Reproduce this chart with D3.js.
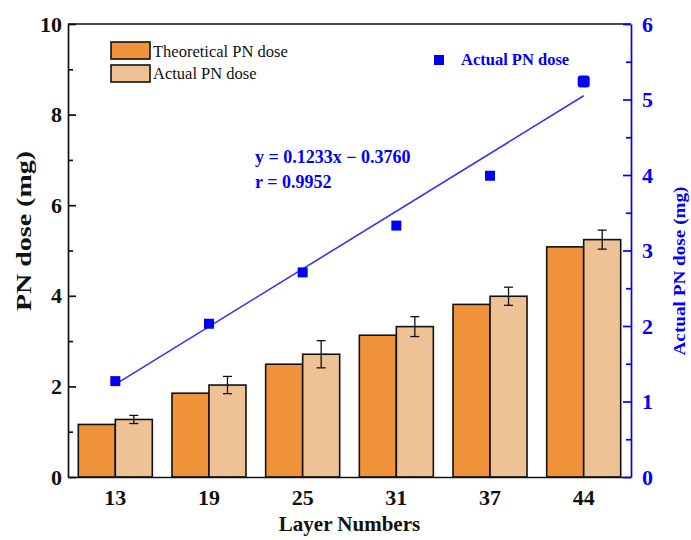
<!DOCTYPE html>
<html><head><meta charset="utf-8">
<script src="https://cdn.jsdelivr.net/npm/d3@7"></script>
<style>body{margin:0;background:#fff}text{font-family:"Liberation Serif","Times New Roman",serif}</style>
</head><body>
<svg id="c" width="691" height="540"></svg>
<script>
// ---- data ----
const layers = ["13", "19", "25", "31", "37", "44"];
const theoretical = [1.16, 1.85, 2.49, 3.13, 3.81, 5.08];
const actual = [1.27, 2.03, 2.71, 3.32, 3.99, 5.24];
const actualErr = [0.09, 0.19, 0.30, 0.22, 0.20, 0.21];
const actualRight = [1.27, 2.03, 2.71, 3.33, 3.99, 5.24];
const fitSlope = 0.1233, fitIntercept = -0.3760;
const fitRange = [13, 44];
const leftTicks = [0, 2, 4, 6, 8, 10];
const leftMinor = [1, 3, 5, 7, 9];
const rightTicks = [0, 1, 2, 3, 4, 5, 6];
const rightMinor = [0.5, 1.5, 2.5, 3.5, 4.5, 5.5];
const seriesNames = ["Theoretical PN dose", "Actual PN dose"];

// ---- layout ----
const L = 68, R = 631, T = 24, B = 477;
const cTheo = "#F0923A", cAct = "#EFC296", blue = "#0000FF";
const svg = d3.select("#c");

const x0 = d3.scaleBand().domain(layers).range([L, R]).paddingInner(0.21).paddingOuter(0.11);
const x1 = d3.scaleBand().domain(["t", "a"]).range([0, x0.bandwidth()]);
const yL = d3.scaleLinear().domain([0, 10]).range([B, T]);
const yR = d3.scaleLinear().domain([0, 6]).range([B, T]);
const xNum = d3.scaleLinear().domain([13, 44]).range([x0("13") + x0.bandwidth() / 2, x0("44") + x0.bandwidth() / 2]);

// bars
const g = svg.append("g");
layers.forEach((k, i) => {
  g.append("rect").attr("x", x0(k) + x1("t")).attr("y", yL(theoretical[i]))
    .attr("width", x1.bandwidth()).attr("height", yL(0) - yL(theoretical[i]))
    .attr("fill", cTheo).attr("stroke", "#111").attr("stroke-width", 1.6);
  g.append("rect").attr("x", x0(k) + x1("a")).attr("y", yL(actual[i]))
    .attr("width", x1.bandwidth()).attr("height", yL(0) - yL(actual[i]))
    .attr("fill", cAct).attr("stroke", "#111").attr("stroke-width", 1.6);
  const cx = x0(k) + x1("a") + x1.bandwidth() / 2;
  const y1 = yL(actual[i] + actualErr[i]), y2 = yL(actual[i] - actualErr[i]);
  g.append("line").attr("x1", cx).attr("x2", cx).attr("y1", y1).attr("y2", y2).attr("stroke", "#111").attr("stroke-width", 1.3);
  [y1, y2].forEach(yy => g.append("line").attr("x1", cx - 4.5).attr("x2", cx + 4.5).attr("y1", yy).attr("y2", yy).attr("stroke", "#111").attr("stroke-width", 1.3));
});

// fit line
svg.append("line")
  .attr("x1", xNum(fitRange[0])).attr("y1", yR(fitSlope * fitRange[0] + fitIntercept))
  .attr("x2", xNum(fitRange[1])).attr("y2", yR(fitSlope * fitRange[1] + fitIntercept))
  .attr("stroke", "#3535F5").attr("stroke-width", 1.6);

// squares
layers.forEach((k, i) => {
  const cx = x0(k) + x0.bandwidth() / 2, cy = yR(actualRight[i]);
  const s = i === layers.length - 1 ? 12 : 10;
  svg.append("rect").attr("x", cx - s / 2).attr("y", cy - s / 2).attr("width", s).attr("height", s)
    .attr("rx", i === layers.length - 1 ? 3 : 0).attr("fill", blue);
});

// axes
const tickFont = (sel, col) => sel.selectAll("text").attr("font-size", 22).attr("font-weight", "bold").attr("fill", col)
  .attr("font-family", "'Liberation Serif',serif");

const axL = svg.append("g").attr("transform", `translate(${L},0)`)
  .call(d3.axisLeft(yL).tickValues(leftTicks).tickFormat(d3.format("d")).tickSize(-8).tickSizeOuter(0).tickPadding(6));
tickFont(axL, "#111");
axL.selectAll("path,line").attr("stroke", "#111").attr("stroke-width", 1.7);
svg.append("g").attr("transform", `translate(${L},0)`)
  .call(d3.axisLeft(yL).tickValues(leftMinor).tickSize(-5).tickFormat(""))
  .call(a => { a.select(".domain").remove(); a.selectAll("line").attr("stroke", "#111").attr("stroke-width", 1.7); });

const axB = svg.append("g").attr("transform", `translate(0,${B})`)
  .call(d3.axisBottom(x0).tickSize(0).tickPadding(12));
tickFont(axB, "#111");
axB.select(".domain").attr("stroke", "#111").attr("stroke-width", 1.7);

svg.append("line").attr("x1", L).attr("x2", R).attr("y1", T).attr("y2", T).attr("stroke", "#111").attr("stroke-width", 1.7);

const axR = svg.append("g").attr("transform", `translate(${R},0)`)
  .call(d3.axisRight(yR).tickValues(rightTicks).tickFormat(d3.format("d")).tickSize(-8).tickSizeOuter(0).tickPadding(11));
tickFont(axR, blue);
axR.selectAll("path,line").attr("stroke", blue).attr("stroke-width", 1.7);
svg.append("g").attr("transform", `translate(${R},0)`)
  .call(d3.axisRight(yR).tickValues(rightMinor).tickSize(-5).tickFormat(""))
  .call(a => { a.select(".domain").remove(); a.selectAll("line").attr("stroke", blue).attr("stroke-width", 1.7); });

// axis titles
svg.append("text").attr("x", (L + R) / 2).attr("y", 531).attr("text-anchor", "middle")
  .attr("font-size", 21).attr("font-weight", "bold").attr("fill", "#111").text("Layer Numbers");
svg.append("text").attr("transform", "translate(31,231) rotate(-90)").attr("text-anchor", "middle")
  .attr("font-size", 20).attr("font-weight", "bold").attr("fill", "#111")
  .attr("textLength", 160).attr("lengthAdjust", "spacingAndGlyphs").text("PN dose (mg)");
svg.append("text").attr("transform", "translate(685,271) rotate(-90)").attr("text-anchor", "middle")
  .attr("font-size", 17).attr("font-weight", "bold").attr("fill", blue)
  .attr("textLength", 169).attr("lengthAdjust", "spacingAndGlyphs").text("Actual PN dose (mg)");

// legend (bars)
[[42, cTheo, 57], [65, cAct, 79]].forEach((d, i) => {
  svg.append("rect").attr("x", 111).attr("y", d[0]).attr("width", 39).attr("height", 17)
    .attr("fill", d[1]).attr("stroke", "#111").attr("stroke-width", 1.6);
  svg.append("text").attr("x", 153).attr("y", d[2]).attr("font-size", 16.5).attr("fill", "#111")
    .text(seriesNames[i]);
});

// legend (scatter)
svg.append("rect").attr("x", 434).attr("y", 55).attr("width", 10).attr("height", 10).attr("fill", blue);
svg.append("text").attr("x", 461).attr("y", 65).attr("font-size", 16.5).attr("font-weight", "bold").attr("fill", blue)
  .text("Actual PN dose");

// equation
svg.append("text").attr("x", 255).attr("y", 163).attr("font-size", 18).attr("font-weight", "bold").attr("fill", blue)
  .text(`y = ${fitSlope.toFixed(4)}x \u2212 ${Math.abs(fitIntercept).toFixed(4)}`);
svg.append("text").attr("x", 255).attr("y", 188).attr("font-size", 18).attr("font-weight", "bold").attr("fill", blue)
  .text("r = 0.9952");
</script>
</body></html>
